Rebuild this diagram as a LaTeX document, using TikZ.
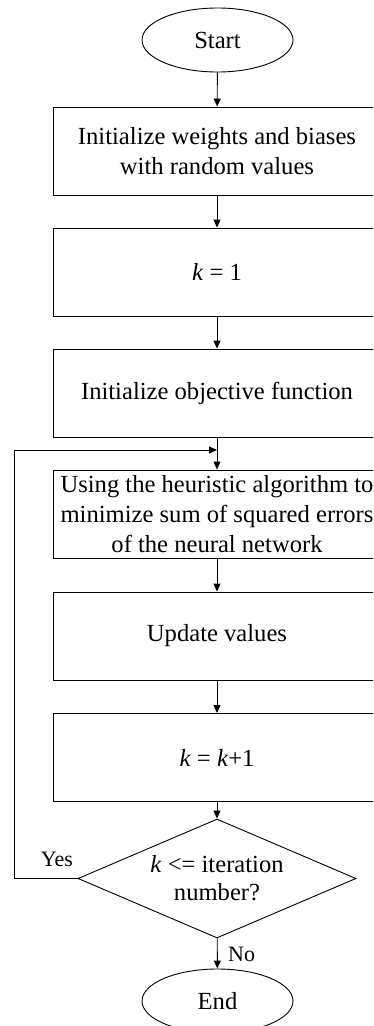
\documentclass[tikz,border=0pt]{standalone}
\usepackage{fontspec}
\setmainfont{Liberation Serif}
\usetikzlibrary{shapes.geometric,arrows.meta}
\begin{document}
\begin{tikzpicture}[x=1pt,y=-1pt,
  every node/.style={font=\fontsize{24.6}{30}\selectfont, inner sep=0pt},
  stepbox/.style={draw, rectangle, minimum width=328, minimum height=88, align=center, line width=0.9pt},
  term/.style={draw, ellipse, minimum width=151, minimum height=64, line width=0.9pt},
  decide/.style={draw, diamond, aspect=2.34, minimum width=278, minimum height=119, align=center, line width=0.9pt, font=\fontsize{24.6}{28}\selectfont},
  arr/.style={line width=0.9pt, -{Triangle[length=8pt,width=7pt]}},
  lbl/.style={font=\fontsize{22}{26}\selectfont}
]
\useasboundingbox (0,0) rectangle (373,1026);
\clip (0,0) rectangle (373,1026);
\node[term] (start) at (217.5,40) {Start};
\node[stepbox] (init) at (217,151) {Initialize weights and biases\\with random values};
\node[stepbox] (k1) at (217,272) {\textit{k} = 1};
\node[stepbox] (obj) at (217,393) {Initialize objective function};
\node[stepbox] (heur) at (217,514) {Using the heuristic algorithm to\\minimize sum of squared errors\\of the neural network};
\node[stepbox] (upd) at (217,636) {Update values};
\node[stepbox] (kk) at (217,757.5) {\textit{k} = \textit{k}+1};
\node[decide] (dec) at (217,878.5) {\textit{k} <= iteration\\number?};
\node[term] (end) at (217.5,1001) {End};
\coordinate (loopend) at (217,450);
\coordinate (loopleft) at (14,878.5);
\node[lbl] (yes) at (57,859) {Yes};
\node[lbl, anchor=west] (no) at (228,954) {No};
\draw[arr] (start) -- (init);
\draw[arr] (init) -- (k1);
\draw[arr] (k1) -- (obj);
\draw[arr] (obj) -- (heur);
\draw[arr] (heur) -- (upd);
\draw[arr] (upd) -- (kk);
\draw[arr] (kk) -- (dec);
\draw[arr] (dec) -- (end);
\draw[arr] (dec.west) -- (loopleft) |- (loopend);
\end{tikzpicture}
\end{document}
